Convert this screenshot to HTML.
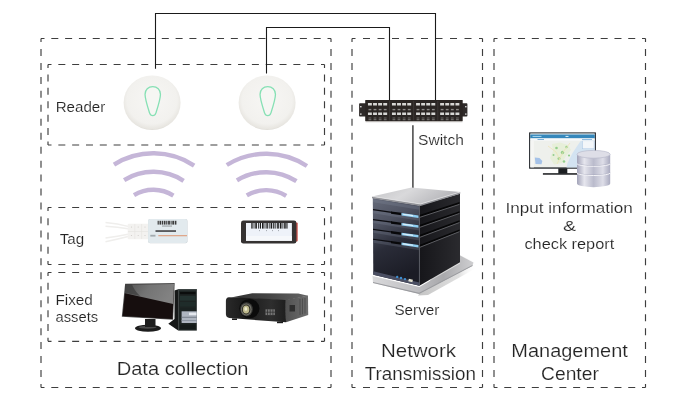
<!DOCTYPE html>
<html lang="en">
<head>
<meta charset="utf-8">
<title>RFID asset management diagram</title>
<style>
  html, body { margin: 0; padding: 0; background: #ffffff; }
  body { width: 686px; height: 400px; overflow: hidden; }
  svg { display: block; }
  text { font-family: "Liberation Sans", sans-serif; fill: #242424; stroke: #ffffff; stroke-width: 0.16px; }
  .wire { fill: none; stroke: #1a1a1a; stroke-width: 1.1; }
  .wave { fill: none; stroke: #c5b6d8; stroke-width: 4.4; }
</style>
</head>
<body>
<svg width="686" height="400" viewBox="0 0 686 400">
  <defs>
    <radialGradient id="gReader" cx="50%" cy="45%" r="55%">
      <stop offset="0" stop-color="#f7f6f4"/>
      <stop offset="0.8" stop-color="#f2f1ee"/>
      <stop offset="0.96" stop-color="#e8e6e1"/>
      <stop offset="1" stop-color="#dedcd6"/>
    </radialGradient>
    <linearGradient id="gScreen" x1="0" y1="0" x2="1" y2="0.300">
      <stop offset="0" stop-color="#525252"/>
      <stop offset="0.5" stop-color="#747474"/>
      <stop offset="1" stop-color="#828282"/>
    </linearGradient>
    <linearGradient id="gSrvTop" x1="0" y1="0" x2="1" y2="0.300">
      <stop offset="0" stop-color="#c4c4c7"/>
      <stop offset="0.45" stop-color="#d9d9db"/>
      <stop offset="1" stop-color="#b4b4b8"/>
    </linearGradient>
    <linearGradient id="gSrvFront" x1="0" y1="0" x2="0.250" y2="1">
      <stop offset="0" stop-color="#666b7a"/>
      <stop offset="0.3" stop-color="#4f5362"/>
      <stop offset="0.6" stop-color="#2a2c38"/>
      <stop offset="1" stop-color="#1b1c25"/>
    </linearGradient>
    <linearGradient id="gBase" x1="0" y1="0" x2="1" y2="0">
      <stop offset="0" stop-color="#d9d9db"/>
      <stop offset="0.45" stop-color="#bdbdc0"/>
      <stop offset="0.7" stop-color="#a9a9ac"/>
      <stop offset="1" stop-color="#cfcfd1"/>
    </linearGradient>
    <linearGradient id="gSrvSide" x1="0" y1="0" x2="1" y2="0">
      <stop offset="0" stop-color="#16161a"/>
      <stop offset="1" stop-color="#2a2a2e"/>
    </linearGradient>
    <linearGradient id="gDb" x1="0" y1="0" x2="1" y2="0">
      <stop offset="0" stop-color="#a2a3b8"/>
      <stop offset="0.22" stop-color="#e6e6ee"/>
      <stop offset="0.5" stop-color="#babbcc"/>
      <stop offset="0.78" stop-color="#dedee8"/>
      <stop offset="1" stop-color="#a9aabf"/>
    </linearGradient>
    <linearGradient id="gProjTop" x1="0" y1="0" x2="1" y2="0">
      <stop offset="0" stop-color="#303030"/>
      <stop offset="0.5" stop-color="#454545"/>
      <stop offset="1" stop-color="#666666"/>
    </linearGradient>
    <linearGradient id="gProjSide" x1="0" y1="0" x2="1" y2="0">
      <stop offset="0" stop-color="#505050"/>
      <stop offset="1" stop-color="#6e6e6e"/>
    </linearGradient>
    <linearGradient id="gProjFront" x1="0" y1="0" x2="1" y2="0">
      <stop offset="0" stop-color="#2a2a2a"/>
      <stop offset="0.3" stop-color="#1a1a1a"/>
      <stop offset="0.75" stop-color="#2e2e2e"/>
      <stop offset="1" stop-color="#1e1e1e"/>
    </linearGradient>
    <linearGradient id="gShadow" x1="0" y1="0" x2="1" y2="0">
      <stop offset="0" stop-color="#bdbdbd" stop-opacity="0.900"/>
      <stop offset="0.7" stop-color="#d2d2d2" stop-opacity="0.700"/>
      <stop offset="1" stop-color="#ffffff" stop-opacity="0"/>
    </linearGradient>
    <filter id="fGray" x="0" y="0" width="686" height="400" filterUnits="userSpaceOnUse" color-interpolation-filters="sRGB">
      <feColorMatrix type="saturate" values="0"/>
    </filter>
  </defs>
  <rect x="0" y="0" width="686" height="400" fill="#ffffff"/>

  <!-- dashed group boxes -->
  <g id="boxes" fill="none" stroke="#3e3e3e" stroke-width="1.15">
    <g><path d="M41.0 38.5 L331.0 38.5" stroke-dasharray="7.0 6.810" stroke-dashoffset="3.5"/><path d="M331.0 38.5 L331.0 387.5" stroke-dasharray="7.0 6.960" stroke-dashoffset="3.5"/><path d="M331.0 387.5 L41.0 387.5" stroke-dasharray="7.0 6.810" stroke-dashoffset="3.5"/><path d="M41.0 387.5 L41.0 38.5" stroke-dasharray="7.0 6.960" stroke-dashoffset="3.5"/></g>
    <g><path d="M48.0 64.5 L324.5 64.5" stroke-dasharray="7.0 6.825" stroke-dashoffset="3.5"/><path d="M324.5 64.5 L324.5 145.0" stroke-dasharray="7.0 6.417" stroke-dashoffset="3.5"/><path d="M324.5 145.0 L48.0 145.0" stroke-dasharray="7.0 6.825" stroke-dashoffset="3.5"/><path d="M48.0 145.0 L48.0 64.5" stroke-dasharray="7.0 6.417" stroke-dashoffset="3.5"/></g>
    <g><path d="M48.0 207.5 L324.5 207.5" stroke-dasharray="7.0 6.825" stroke-dashoffset="3.5"/><path d="M324.5 207.5 L324.5 264.5" stroke-dasharray="7.0 7.250" stroke-dashoffset="3.5"/><path d="M324.5 264.5 L48.0 264.5" stroke-dasharray="7.0 6.825" stroke-dashoffset="3.5"/><path d="M48.0 264.5 L48.0 207.5" stroke-dasharray="7.0 7.250" stroke-dashoffset="3.5"/></g>
    <g><path d="M48.0 272.5 L324.5 272.5" stroke-dasharray="7.0 6.825" stroke-dashoffset="3.5"/><path d="M324.5 272.5 L324.5 341.3" stroke-dasharray="7.0 6.760" stroke-dashoffset="3.5"/><path d="M324.5 341.3 L48.0 341.3" stroke-dasharray="7.0 6.825" stroke-dashoffset="3.5"/><path d="M48.0 341.3 L48.0 272.5" stroke-dasharray="7.0 6.760" stroke-dashoffset="3.5"/></g>
    <g><path d="M352.0 38.5 L482.5 38.5" stroke-dasharray="7.0 7.500" stroke-dashoffset="3.5"/><path d="M482.5 38.5 L482.5 387.5" stroke-dasharray="7.0 6.960" stroke-dashoffset="3.5"/><path d="M482.5 387.5 L352.0 387.5" stroke-dasharray="7.0 7.500" stroke-dashoffset="3.5"/><path d="M352.0 387.5 L352.0 38.5" stroke-dasharray="7.0 6.960" stroke-dashoffset="3.5"/></g>
    <g><path d="M494.0 38.5 L645.5 38.5" stroke-dasharray="7.0 6.773" stroke-dashoffset="3.5"/><path d="M645.5 38.5 L645.5 387.5" stroke-dasharray="7.0 6.960" stroke-dashoffset="3.5"/><path d="M645.5 387.5 L494.0 387.5" stroke-dasharray="7.0 6.773" stroke-dashoffset="3.5"/><path d="M494.0 387.5 L494.0 38.5" stroke-dasharray="7.0 6.960" stroke-dashoffset="3.5"/></g>
  </g>

  <!-- wires -->
  <g id="wires">
    <path class="wire" d="M155.500 68.700 V13.500 H435.500 V100.200"/>
    <path class="wire" d="M266.500 73.400 V27.500 H389.500 V100.200"/>
    <path d="M412.900 125.200 V188" fill="none" stroke="#444444" stroke-width="1.500"/>
  </g>

  <!-- readers -->
  <g id="readers">
    <ellipse cx="152.100" cy="102.750" rx="28.500" ry="27.200" fill="url(#gReader)"/>
    <path d="M145.05 94.3 C145.05 89.70 148.35 86.65 152.75 86.65 C157.15 86.65 160.45 89.70 160.45 94.3 C160.45 99.30 157.15 109.15 155.95 112.85 C155.25 114.95 154.15 115.65 152.75 115.65 C151.35 115.65 150.25 114.95 149.55 112.85 C148.35 109.15 145.05 99.30 145.05 94.3 Z" fill="#f6f6f3" stroke="#86e0b4" stroke-width="1.300"/>
    <ellipse cx="267.100" cy="102.750" rx="28.500" ry="27.200" fill="url(#gReader)"/>
    <path d="M260.05 94.3 C260.05 89.70 263.35 86.65 267.75 86.65 C272.15 86.65 275.45 89.70 275.45 94.3 C275.45 99.30 272.15 109.15 270.95 112.85 C270.25 114.95 269.15 115.65 267.75 115.65 C266.35 115.65 265.25 114.95 264.55 112.85 C263.35 109.15 260.05 99.30 260.05 94.3 Z" fill="#f6f6f3" stroke="#86e0b4" stroke-width="1.300"/>
  </g>

  <!-- radio waves -->
  <g id="waves">
    <path class="wave" d="M113.98 164.61 A74.0 74.0 0 0 1 194.14 165.59"/>
    <path class="wave" d="M124.14 180.08 A55.5 55.5 0 0 1 183.61 180.81"/>
    <path class="wave" d="M133.99 195.04 A37.6 37.6 0 0 1 173.39 195.52"/>
    <path class="wave" d="M226.78 165.01 A74.0 74.0 0 0 1 306.94 165.99"/>
    <path class="wave" d="M236.94 180.48 A55.5 55.5 0 0 1 296.41 181.21"/>
    <path class="wave" d="M246.79 195.44 A37.6 37.6 0 0 1 286.19 195.92"/>
  </g>

  <!-- tag 1: cable tie tag -->
  <g id="tag1">
    <path d="M105.500 222.600 Q118 223.600 128 226.400 M105.500 226.200 Q118 227 128 228.800 M105.500 241.700 Q118 239 128 236.400 M105.500 238 Q118 236.200 128 234.200" fill="none" stroke="#efeeec" stroke-width="1.5"/>
    <rect x="127.700" y="223.700" width="21" height="15.600" rx="1" fill="#f3f2f0"/>
    <path d="M128 231.500 H148.500 M134.800 224 V239 M141.600 224 V239" fill="none" stroke="#e4e2df" stroke-width="0.6"/>
    <g fill="#cfccc8"><circle cx="131.500" cy="227" r="0.600"/><circle cx="138.200" cy="227" r="0.600"/><circle cx="145" cy="227" r="0.600"/><circle cx="131.500" cy="235.500" r="0.600"/><circle cx="138.200" cy="235.500" r="0.600"/><circle cx="145" cy="235.500" r="0.600"/></g>
    <rect x="148.100" y="218.900" width="39.400" height="24.400" rx="2" fill="#c9d0d4"/>
    <rect x="148.100" y="218.900" width="39" height="24" rx="2" fill="#e2eaee"/>
    <g fill="#3c3c3c">
      <rect x="157.600" y="220.800" width="1.200" height="3.800"/><rect x="159.500" y="220.800" width="1.800" height="3.800"/><rect x="162" y="220.800" width="1" height="3.800"/><rect x="163.700" y="220.800" width="1.800" height="3.800"/><rect x="166.200" y="220.800" width="1.200" height="3.800"/><rect x="168.100" y="220.800" width="1.800" height="3.800"/><rect x="170.600" y="220.800" width="1" height="3.800"/><rect x="172.300" y="220.800" width="1.800" height="3.800"/><rect x="174.800" y="220.800" width="1.600" height="3.800"/>
    </g>
    <rect x="162" y="225.600" width="10" height="0.900" fill="#8a8f92"/>
    <rect x="155.500" y="230.200" width="20.500" height="1.700" fill="#4b4d4f"/>
    <rect x="158.300" y="235.300" width="28.700" height="0.900" fill="#df8a62"/>
    <rect x="150.300" y="234.800" width="5.200" height="1.800" fill="#a3abb0"/>
  </g>

  <!-- tag 2: metal tag -->
  <g id="tag2">
    <rect x="295" y="222.600" width="2.700" height="18.800" rx="1" fill="#c9524b"/>
    <rect x="241" y="220.500" width="55.400" height="23.100" rx="2.400" fill="#353232"/>
    <rect x="246" y="223" width="45.900" height="17.800" fill="#eef2f9"/>
    <rect x="246" y="236" width="45.900" height="4.800" fill="#f6f8fb"/>
    <g fill="#1c1c1c">
      <rect x="251.300" y="223" width="1.300" height="5.600"/><rect x="253.600" y="223" width="0.800" height="5.600"/><rect x="255.300" y="223" width="1.600" height="5.600"/><rect x="258" y="223" width="0.800" height="5.600"/><rect x="259.800" y="223" width="1.200" height="5.600"/><rect x="262" y="223" width="1.600" height="5.600"/><rect x="264.600" y="223" width="0.800" height="5.600"/><rect x="266.400" y="223" width="1.400" height="5.600"/><rect x="268.800" y="223" width="0.800" height="5.600"/><rect x="270.600" y="223" width="1.600" height="5.600"/><rect x="273.200" y="223" width="1.200" height="5.600"/><rect x="275.400" y="223" width="0.800" height="5.600"/><rect x="277.200" y="223" width="1.600" height="5.600"/><rect x="279.800" y="223" width="1.700" height="5.600"/><rect x="282.500" y="223" width="0.800" height="5.600"/><rect x="284.200" y="223" width="1.500" height="5.600"/><rect x="286.400" y="223" width="1.100" height="5.600"/>
    </g>
    <g fill="#8d9299"><rect x="259" y="230.300" width="1" height="0.800"/><rect x="266" y="230.300" width="1" height="0.800"/><rect x="272" y="230.300" width="1" height="0.800"/><rect x="278" y="230.300" width="1" height="0.800"/></g>
  </g>

  <!-- desktop computer -->
  <g id="computer">
    <!-- tower -->
    <path d="M174.500 290.500 L178.200 289.200 L178.200 330.600 L168.300 323.800 L174.500 319 Z" fill="#161818"/>
    <rect x="178.200" y="289.200" width="18.600" height="41.400" fill="#1d2423"/>
    <rect x="178.200" y="289.200" width="18.600" height="1.200" fill="#3a4241"/>
    <rect x="180" y="292" width="15.500" height="2.200" fill="#0b0d0d"/>
    <rect x="180" y="296" width="15.500" height="4.600" fill="#233230"/>
    <rect x="180" y="302" width="15.500" height="4.600" fill="#1f2c2a"/>
    <rect x="180" y="308" width="15.500" height="2.400" fill="#1a2221"/>
    <rect x="181.600" y="311.300" width="15.200" height="11.700" fill="#aeb5c0"/>
    <rect x="189" y="312.600" width="7.400" height="2.600" fill="#e4e8ee"/>
    <rect x="181.600" y="316.800" width="15.200" height="0.900" fill="#6f7884"/>
    <rect x="181.600" y="320" width="15.200" height="0.900" fill="#8b94a0"/>
    <rect x="180" y="324.500" width="15.500" height="4.500" fill="#141a19"/>
    <!-- monitor -->
    <ellipse cx="148" cy="328.300" rx="13" ry="3.500" fill="#1c1c1c"/>
    <ellipse cx="147.500" cy="327.300" rx="9" ry="1.500" fill="#4a4a4a"/>
    <rect x="145" y="319" width="10.500" height="8" fill="#1e1e1e"/>
    <path d="M125.100 283.800 L174.700 283.100 L173.100 319.700 L121.800 316.800 Z" fill="#4f4f4f"/>
    <path d="M125.800 284.600 L174 283.900 L172.500 318.900 L122.600 316.100 Z" fill="#160e0e"/>
    <path d="M125.800 284.600 L174 283.900 L173.200 304 L125 293.200 Z" fill="url(#gScreen)"/>
    <path d="M125.800 284.600 L132 284.500 Q134 290 140 296.100 L125 292.800 Z" fill="#3a3a3a" opacity="0.700"/>
  </g>

  <!-- projector -->
  <g id="projector">
    <path d="M231 297.400 L252.200 293.300 L298.400 293.600 L308 295.700 L285.500 300.400 Z" fill="url(#gProjTop)"/>
    <path d="M285 300 L308 295.600 L308.200 314.900 L286 322.300 Z" fill="url(#gProjSide)"/>
    <path d="M229 297.300 Q257 298 285.500 300 L286 322.300 L229.500 318.100 Q225.900 317.500 225.900 314 L225.900 301 Q225.900 297.500 229 297.300 Z" fill="url(#gProjFront)"/>
    <rect x="265.500" y="309.300" width="9.400" height="5.800" fill="#767676"/>
    <path d="M267.500 309.300 V315 M270.200 309.300 V315 M272.900 309.300 V315 M265.500 312.200 H275" stroke="#2a2a2a" stroke-width="0.700" fill="none"/>
    <rect x="289.500" y="305" width="5.500" height="6.500" fill="#2e2e2e"/>
    <path d="M300 299 V315 M302.500 298.500 V314.300 M305 298 V313.500" stroke="#444" stroke-width="0.700" fill="none"/>
    <ellipse cx="249.400" cy="308.600" rx="10.100" ry="9.700" fill="#0b0b0b"/>
    <ellipse cx="246.500" cy="309.300" rx="6.300" ry="7" fill="#3a3a37"/>
    <ellipse cx="246.300" cy="309.400" rx="5.300" ry="6" fill="#74736b"/>
    <ellipse cx="246.200" cy="309.500" rx="4.200" ry="4.900" fill="#2b2a22"/>
    <ellipse cx="246.100" cy="309.500" rx="3.200" ry="3.900" fill="#bdb88c"/>
    <ellipse cx="245.800" cy="308.900" rx="1.400" ry="1.900" fill="#ebe8cc"/>
    <rect x="232" y="318.400" width="5" height="1.600" fill="#1c1c1c"/>
    <rect x="277" y="321.600" width="6" height="1.600" fill="#1c1c1c"/>
  </g>

  <!-- switch -->
  <g id="switch">
    <rect x="365.500" y="120.500" width="97" height="1.700" fill="#b9b6b3"/>
    <rect x="359.100" y="103.200" width="108.300" height="13.400" rx="0.800" fill="#2e2a29"/>
    <rect x="365.200" y="100" width="97.500" height="21" rx="0.600" fill="#2a2523"/>
    <g fill="#f2f2f2"><rect x="360.200" y="106" width="1.300" height="1.400"/><rect x="360.200" y="113.400" width="1.300" height="1.400"/><rect x="465.200" y="106" width="1.300" height="1.400"/><rect x="465.200" y="113.400" width="1.300" height="1.400"/></g>
    <path d="M389.700 101 V120.500 M413.700 101 V120.500 M437.800 101 V120.500" fill="none" stroke="#4a4543" stroke-width="0.600"/>
    <rect x="367.95" y="103.0" width="3.9" height="2.5" fill="#d6d6d4"/><rect x="368.50" y="108.9" width="2.8" height="1.4" fill="#8a8886"/><rect x="367.95" y="112.5" width="3.9" height="2.5" fill="#d6d6d4"/><rect x="368.50" y="117.5" width="2.8" height="1.0" fill="#6b6967"/><rect x="368.50" y="119.2" width="2.8" height="1.0" fill="#7a7876"/><rect x="373.05" y="103.0" width="3.9" height="2.5" fill="#d6d6d4"/><rect x="373.60" y="108.9" width="2.8" height="1.4" fill="#8a8886"/><rect x="373.05" y="112.5" width="3.9" height="2.5" fill="#d6d6d4"/><rect x="373.60" y="117.5" width="2.8" height="1.0" fill="#6b6967"/><rect x="373.60" y="119.2" width="2.8" height="1.0" fill="#7a7876"/><rect x="378.15" y="103.0" width="3.9" height="2.5" fill="#d6d6d4"/><rect x="378.70" y="108.9" width="2.8" height="1.4" fill="#8a8886"/><rect x="378.15" y="112.5" width="3.9" height="2.5" fill="#d6d6d4"/><rect x="378.70" y="117.5" width="2.8" height="1.0" fill="#6b6967"/><rect x="378.70" y="119.2" width="2.8" height="1.0" fill="#7a7876"/><rect x="383.25" y="103.0" width="3.9" height="2.5" fill="#d6d6d4"/><rect x="383.80" y="108.9" width="2.8" height="1.4" fill="#8a8886"/><rect x="383.25" y="112.5" width="3.9" height="2.5" fill="#d6d6d4"/><rect x="383.80" y="117.5" width="2.8" height="1.0" fill="#6b6967"/><rect x="383.80" y="119.2" width="2.8" height="1.0" fill="#7a7876"/><rect x="391.95" y="103.0" width="3.9" height="2.5" fill="#d6d6d4"/><rect x="392.50" y="108.9" width="2.8" height="1.4" fill="#8a8886"/><rect x="391.95" y="112.5" width="3.9" height="2.5" fill="#d6d6d4"/><rect x="392.50" y="117.5" width="2.8" height="1.0" fill="#6b6967"/><rect x="392.50" y="119.2" width="2.8" height="1.0" fill="#7a7876"/><rect x="397.05" y="103.0" width="3.9" height="2.5" fill="#d6d6d4"/><rect x="397.60" y="108.9" width="2.8" height="1.4" fill="#8a8886"/><rect x="397.05" y="112.5" width="3.9" height="2.5" fill="#d6d6d4"/><rect x="397.60" y="117.5" width="2.8" height="1.0" fill="#6b6967"/><rect x="397.60" y="119.2" width="2.8" height="1.0" fill="#7a7876"/><rect x="402.15" y="103.0" width="3.9" height="2.5" fill="#d6d6d4"/><rect x="402.70" y="108.9" width="2.8" height="1.4" fill="#8a8886"/><rect x="402.15" y="112.5" width="3.9" height="2.5" fill="#d6d6d4"/><rect x="402.70" y="117.5" width="2.8" height="1.0" fill="#6b6967"/><rect x="402.70" y="119.2" width="2.8" height="1.0" fill="#7a7876"/><rect x="407.25" y="103.0" width="3.9" height="2.5" fill="#d6d6d4"/><rect x="407.80" y="108.9" width="2.8" height="1.4" fill="#8a8886"/><rect x="407.25" y="112.5" width="3.9" height="2.5" fill="#d6d6d4"/><rect x="407.80" y="117.5" width="2.8" height="1.0" fill="#6b6967"/><rect x="407.80" y="119.2" width="2.8" height="1.0" fill="#7a7876"/><rect x="416.05" y="103.0" width="3.9" height="2.5" fill="#d6d6d4"/><rect x="416.60" y="108.9" width="2.8" height="1.4" fill="#8a8886"/><rect x="416.05" y="112.5" width="3.9" height="2.5" fill="#d6d6d4"/><rect x="416.60" y="117.5" width="2.8" height="1.0" fill="#6b6967"/><rect x="416.60" y="119.2" width="2.8" height="1.0" fill="#7a7876"/><rect x="421.15" y="103.0" width="3.9" height="2.5" fill="#d6d6d4"/><rect x="421.70" y="108.9" width="2.8" height="1.4" fill="#8a8886"/><rect x="421.15" y="112.5" width="3.9" height="2.5" fill="#d6d6d4"/><rect x="421.70" y="117.5" width="2.8" height="1.0" fill="#6b6967"/><rect x="421.70" y="119.2" width="2.8" height="1.0" fill="#7a7876"/><rect x="426.25" y="103.0" width="3.9" height="2.5" fill="#d6d6d4"/><rect x="426.80" y="108.9" width="2.8" height="1.4" fill="#8a8886"/><rect x="426.25" y="112.5" width="3.9" height="2.5" fill="#d6d6d4"/><rect x="426.80" y="117.5" width="2.8" height="1.0" fill="#6b6967"/><rect x="426.80" y="119.2" width="2.8" height="1.0" fill="#7a7876"/><rect x="431.35" y="103.0" width="3.9" height="2.5" fill="#d6d6d4"/><rect x="431.90" y="108.9" width="2.8" height="1.4" fill="#8a8886"/><rect x="431.35" y="112.5" width="3.9" height="2.5" fill="#d6d6d4"/><rect x="431.90" y="117.5" width="2.8" height="1.0" fill="#6b6967"/><rect x="431.90" y="119.2" width="2.8" height="1.0" fill="#7a7876"/><rect x="440.15" y="103.0" width="3.9" height="2.5" fill="#d6d6d4"/><rect x="440.70" y="108.9" width="2.8" height="1.4" fill="#8a8886"/><rect x="440.15" y="112.5" width="3.9" height="2.5" fill="#d6d6d4"/><rect x="440.70" y="117.5" width="2.8" height="1.0" fill="#6b6967"/><rect x="440.70" y="119.2" width="2.8" height="1.0" fill="#7a7876"/><rect x="445.25" y="103.0" width="3.9" height="2.5" fill="#d6d6d4"/><rect x="445.80" y="108.9" width="2.8" height="1.4" fill="#8a8886"/><rect x="445.25" y="112.5" width="3.9" height="2.5" fill="#d6d6d4"/><rect x="445.80" y="117.5" width="2.8" height="1.0" fill="#6b6967"/><rect x="445.80" y="119.2" width="2.8" height="1.0" fill="#7a7876"/><rect x="450.35" y="103.0" width="3.9" height="2.5" fill="#d6d6d4"/><rect x="450.90" y="108.9" width="2.8" height="1.4" fill="#8a8886"/><rect x="450.35" y="112.5" width="3.9" height="2.5" fill="#d6d6d4"/><rect x="450.90" y="117.5" width="2.8" height="1.0" fill="#6b6967"/><rect x="450.90" y="119.2" width="2.8" height="1.0" fill="#7a7876"/><rect x="455.45" y="103.0" width="3.9" height="2.5" fill="#d6d6d4"/><rect x="456.00" y="108.9" width="2.8" height="1.4" fill="#8a8886"/><rect x="455.45" y="112.5" width="3.9" height="2.5" fill="#d6d6d4"/><rect x="456.00" y="117.5" width="2.8" height="1.0" fill="#6b6967"/><rect x="456.00" y="119.2" width="2.8" height="1.0" fill="#7a7876"/>
  </g>

  <!-- server -->
  <g id="server">
    <path d="M440 268 L459.500 255 L475.500 262.500 L476.500 268 L428 295 L418 295.500 Z" fill="url(#gShadow)"/>
    <path d="M372.500 276 L419.400 287 L460 263.500 L460 255.500 L473.500 262.600 L472.500 265.800 L419.100 293.800 L373 283 Z" fill="url(#gBase)"/>
    <path d="M373 282 L419.100 292.800 L472.500 265 L472.500 265.900 L419.100 293.900 L373 283.100 Z" fill="#9a9b9f"/>
    <path d="M372.800 198 L419.400 205.500 L419.400 285.800 L373.300 274.800 Z" fill="url(#gSrvFront)"/>
    <path d="M419.400 205.500 L460 193.700 L460 262.300 L419.400 285.800 Z" fill="url(#gSrvSide)"/>
    <path d="M372 196.400 L411.500 187.500 L460.200 192 L420.500 204 Z" fill="url(#gSrvTop)"/>
    <path d="M372 196.400 L420.500 204 L460.200 192 L460.200 193.800 L420.500 205.900 L372 198.200 Z" fill="#8f9095"/>
    <path d="M372 196.400 L420.500 204 L460.200 192" fill="none" stroke="#e9e9eb" stroke-width="0.700"/>
    <g><path d="M373 199.200 L419.400 206.700 L419.400 209.700 L373 202.200 Z" fill="#8a90a2" opacity="0.220"/><path d="M373.300 210.14 L419.400 217.70 L419.400 220.70 L373.300 213.14 Z" fill="#8a90a2" opacity="0.220"/><path d="M373.300 219.99 L419.400 227.55 L419.400 230.55 L373.300 222.99 Z" fill="#8a90a2" opacity="0.220"/><path d="M373.300 229.84 L419.400 237.40 L419.400 240.40 L373.300 232.84 Z" fill="#8a90a2" opacity="0.220"/><path d="M373.300 239.69 L419.400 247.25 L419.400 250.25 L373.300 242.69 Z" fill="#8a90a2" opacity="0.220"/></g>
    <g transform="translate(0 -0.5)">
      <path d="M373 209.60 L392 212.22 L392 213.42 L373 210.80 Z" fill="#0c0c10"/><path d="M391 211.88 L401.5 213.33 L401.5 215.73 L391 214.28 Z" fill="#08080a"/><path d="M401.500 213.53 L418.500 215.88 L418.500 218.38 L401.500 216.03 Z" fill="#8fcdf0"/><path d="M403 214.24 L413 215.62 L413 216.72 L403 215.34 Z" fill="#d9f0fb"/>
      <path d="M373 219.45 L392 222.07 L392 223.27 L373 220.65 Z" fill="#0c0c10"/><path d="M391 221.73 L401.5 223.18 L401.5 225.58 L391 224.13 Z" fill="#08080a"/><path d="M401.500 223.38 L418.500 225.73 L418.500 228.23 L401.500 225.88 Z" fill="#8fcdf0"/><path d="M403 224.09 L413 225.47 L413 226.57 L403 225.19 Z" fill="#d9f0fb"/>
      <path d="M373 229.30 L392 231.92 L392 233.12 L373 230.50 Z" fill="#0c0c10"/><path d="M391 231.58 L401.5 233.03 L401.5 235.43 L391 233.98 Z" fill="#08080a"/><path d="M401.500 233.23 L418.500 235.58 L418.500 238.08 L401.500 235.73 Z" fill="#8fcdf0"/><path d="M403 233.94 L413 235.32 L413 236.42 L403 235.04 Z" fill="#d9f0fb"/>
      <path d="M373 239.15 L392 241.77 L392 242.97 L373 240.35 Z" fill="#0c0c10"/><path d="M391 241.43 L401.5 242.88 L401.5 245.28 L391 243.83 Z" fill="#08080a"/><path d="M401.500 243.08 L418.500 245.43 L418.500 247.93 L401.500 245.58 Z" fill="#8fcdf0"/><path d="M403 243.79 L413 245.17 L413 246.27 L403 244.89 Z" fill="#d9f0fb"/>
    </g>
    <g>
      <path d="M419.400 215.10 L459.500 202.10 L459.500 204.30 L419.400 217.30 Z" fill="#060607"/><path d="M419.900 217.30 L459.500 204.30" stroke="#6d6e74" stroke-width="0.800" fill="none"/><path d="M419.400 225.10 L459.500 211.20 L459.500 213.40 L419.400 227.30 Z" fill="#060607"/><path d="M419.900 227.30 L459.500 213.40" stroke="#6d6e74" stroke-width="0.800" fill="none"/><path d="M419.400 235.10 L459.500 220.30 L459.500 222.50 L419.400 237.30 Z" fill="#060607"/><path d="M419.900 237.30 L459.500 222.50" stroke="#6d6e74" stroke-width="0.800" fill="none"/><path d="M419.400 245.10 L459.500 229.40 L459.500 231.60 L419.400 247.30 Z" fill="#060607"/><path d="M419.900 247.30 L459.500 231.60" stroke="#6d6e74" stroke-width="0.800" fill="none"/>
    </g>
    <path d="M373.300 271.200 L419.400 282.600 L419.400 285.800 L373.300 274.800 Z" fill="#4b4f63"/>
    <g fill="#3f8fd0">
      <circle cx="397.200" cy="276.900" r="1.200"/><circle cx="401" cy="278" r="1.200"/><circle cx="405" cy="279.100" r="1.200"/>
    </g>
    <rect x="408.500" y="279.300" width="4.200" height="2.400" fill="#e3e1cf" transform="rotate(14 410.500 280.500)"/>
    <path d="M419.400 205.700 V285.600" stroke="#5a5d68" stroke-width="0.700" fill="none"/>
  </g>

  <!-- management workstation -->
  <g id="workstation">
    <rect x="542.900" y="173.200" width="34.100" height="1.500" fill="#17191c"/>
    <rect x="558.300" y="168.300" width="9" height="5.300" fill="#1c1f22"/>
    <rect x="529.100" y="132.400" width="66.800" height="36.300" fill="#1e2227"/>
    <rect x="530.300" y="133.600" width="64.400" height="33.800" fill="#eef0ec"/>
    <path d="M594.700 140.500 L581 140.500 L576.500 147 L572.500 153 L567.500 163 L566.500 167.400 L594.700 167.400 Z" fill="#d3e3f1"/>
    <rect x="582.500" y="140.800" width="11.600" height="8" fill="#f3f6f9" stroke="#a9c6e4" stroke-width="0.500"/>
    <path d="M552 144 L560 142.500 L568 145 L571 150 L566 156 L562 163 L554 164.500 L550 158 L553 151 Z" fill="#e7efd9"/>
    <g fill="#93cf8c">
      <circle cx="556.500" cy="148" r="1.300"/><circle cx="562.500" cy="152.500" r="1.700"/><circle cx="559" cy="158.500" r="1.500"/><circle cx="566.500" cy="147" r="1.200"/><circle cx="564" cy="161.500" r="1.300"/><circle cx="569" cy="155.500" r="1.100"/><circle cx="553.500" cy="155" r="1"/>
    </g>
    <path d="M548 146 L556 152 L560 160 M570 143 L563 152 L557 164" fill="none" stroke="#efe3b0" stroke-width="0.700"/>
    <rect x="530.300" y="133.600" width="64.400" height="1" fill="#dfeaf1"/>
    <rect x="530.300" y="134.500" width="64.400" height="3.900" fill="#3587bb"/>
    <rect x="532.500" y="135.900" width="9" height="1.100" fill="#9fd0ea"/>
    <rect x="565.500" y="135.900" width="3" height="1.100" fill="#cfe8f4"/>
    <rect x="530.300" y="138.400" width="64.400" height="2.200" fill="#f7f9fa"/>
    <rect x="537.500" y="139" width="6.500" height="1" fill="#7db0d8"/>
    <rect x="582" y="139" width="10" height="1" fill="#8fbbe0"/>
    <rect x="530.300" y="140.600" width="3.600" height="26.800" fill="#f5f6f4"/>
    <path d="M534.800 157.500 L539.500 158 L542.300 161 L541.500 164.300 L535.500 164 Z" fill="#a5c2e8"/>
    <!-- database -->
    <path d="M577 154.600 L577 183.400 A16.600 3.800 0 0 0 610.200 183.400 L610.200 154.600 Z" fill="url(#gDb)"/>
    <path d="M577 162.700 A16.600 2.600 0 0 0 610.200 162.700 L610.200 163.600 A16.600 2.600 0 0 1 577 163.600 Z" fill="#9a9bb2" opacity="0.600"/>
    <path d="M577 171.900 A16.600 2.600 0 0 0 610.200 171.900 L610.200 172.800 A16.600 2.600 0 0 1 577 172.800 Z" fill="#9a9bb2" opacity="0.600"/>
    <path d="M577 163.700 A16.600 2.600 0 0 0 610.200 163.700" fill="none" stroke="#f4f4f8" stroke-width="1"/>
    <path d="M577 172.900 A16.600 2.600 0 0 0 610.200 172.900" fill="none" stroke="#f4f4f8" stroke-width="1"/>
    <ellipse cx="593.600" cy="154.300" rx="16.600" ry="3.900" fill="#dedee7" stroke="#b4b5c8" stroke-width="0.600"/>
  </g>

  <!-- labels -->
  <g id="labels" filter="url(#fGray)">
    <text x="55.71" y="112.3" font-size="14.7" textLength="49.56" lengthAdjust="spacingAndGlyphs">Reader</text>
    <text x="59.76" y="244.4" font-size="15.5" textLength="24.42" lengthAdjust="spacingAndGlyphs">Tag</text>
    <text x="55.51" y="305.4" font-size="14.8" textLength="37.36" lengthAdjust="spacingAndGlyphs">Fixed</text>
    <text x="55.55" y="322.4" font-size="14.8" textLength="42.56" lengthAdjust="spacingAndGlyphs">assets</text>
    <text x="116.66" y="374.7" font-size="18.4" textLength="131.89" lengthAdjust="spacingAndGlyphs">Data collection</text>
    <text x="418.01" y="144.5" font-size="14.8" textLength="45.88" lengthAdjust="spacingAndGlyphs">Switch</text>
    <text x="394.44" y="315.2" font-size="15.0" textLength="44.95" lengthAdjust="spacingAndGlyphs">Server</text>
    <text x="381.0" y="357.4" font-size="18.1" textLength="75.02" lengthAdjust="spacingAndGlyphs">Network</text>
    <text x="364.78" y="379.6" font-size="18.1" textLength="111.14" lengthAdjust="spacingAndGlyphs">Transmission</text>
    <text x="511.34" y="357.3" font-size="18.0" textLength="116.45" lengthAdjust="spacingAndGlyphs">Management</text>
    <text x="541.13" y="379.6" font-size="18.0" textLength="57.67" lengthAdjust="spacingAndGlyphs">Center</text>
    <text x="505.49" y="213.1" font-size="15.0" textLength="127.33" lengthAdjust="spacingAndGlyphs">Input information</text>
    <text x="563.04" y="231.0" font-size="15.0" textLength="13.21" lengthAdjust="spacingAndGlyphs">&amp;</text>
    <text x="524.48" y="248.8" font-size="15.0" textLength="89.77" lengthAdjust="spacingAndGlyphs">check report</text>
  </g>
</svg>
</body>
</html>
